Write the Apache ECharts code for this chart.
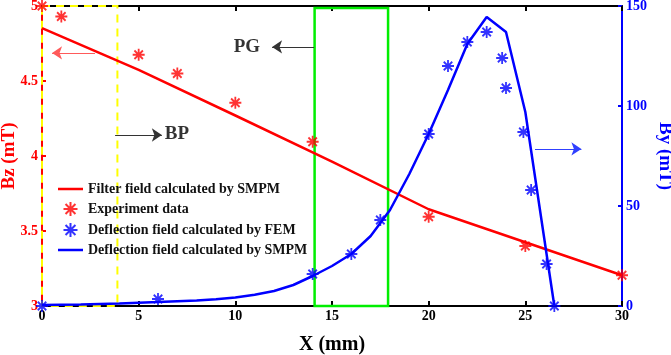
<!DOCTYPE html>
<html><head><meta charset="utf-8">
<script src="https://cdn.jsdelivr.net/npm/echarts@6/dist/echarts.min.js"></script>
<style>html,body{margin:0;padding:0;background:#fff}#c{width:671px;height:355px}</style>
</head><body><div id="c"></div>
<script>
// ---- data ----
var xTicks = [0, 5, 10, 15, 20, 25, 30];
var filterX = [0, 5, 10, 15, 20, 25, 30];
var filterBz = [4.853, 4.574, 4.27, 3.963, 3.645, 3.425, 3.205];
var expX = [0, 1, 5, 7, 10, 14, 20, 25, 30];
var expBz = [5.0, 4.93, 4.675, 4.55, 4.355, 4.095, 3.595, 3.40, 3.205];
var femX = [0, 6, 14, 16, 17.5, 20, 21, 22, 23, 23.8, 24, 24.9, 25.3, 26.1, 26.5];
var femBy = [0, 3.5, 16, 26, 43, 86, 120, 132, 137, 124, 109, 87, 58, 21, 0];
var smpmX = [0, 2, 4, 6, 8, 9, 10, 11, 12, 13, 14, 15, 16, 17, 18, 19, 20, 21, 22, 23, 24, 25, 26.5];
var smpmBy = [0.5, 0.8, 1.3, 2.0, 2.8, 3.4, 4.2, 5.6, 7.5, 10.5, 15, 20, 26, 35, 48, 66, 86, 108, 131, 144.5, 137, 97, 0];
var regionBP = [0, 3.9];
var regionPG = [14.1, 17.9];
var annotTexts = ['PG', 'BP'];
var annotX = [10.6, 6.98];
var annotY = [4.727, 4.147];
var arrows = [ // [x1,y1,x2,y2]
  [2.74, 4.687, 0.52, 4.687],
  [14.07, 4.727, 11.9, 4.727],
  [3.78, 4.14, 6.2, 4.14],
  [25.5, 4.047, 27.9, 4.047]
];
var arrowColors = ['#ff5a5a', '#333333', '#333333', '#3040ff'];

function zip(a, b) { return a.map(function (v, i) { return [v, b[i]]; }); }
var FONT = 'Liberation Serif';
var star = 'path://M0,-10L0,10M-10,0L10,0M-7.07,-7.07L7.07,7.07M-7.07,7.07L7.07,-7.07';
var lineIcon = 'path://M0,0L0.01,0L0,0.01Z M0,5.8H25V8.2H0Z M25,14L24.99,14L25,13.99Z';

var chart = echarts.init(document.getElementById('c'));
chart.setOption({
  animation: false,
  grid: { left: 42, right: 49, top: 6, bottom: 49, show: false,
          containLabel: false, outerBoundsMode: 'none' },
  legend: {
    orient: 'vertical', left: 53, top: 177, itemGap: 5, itemWidth: 25, itemHeight: 14,
    textStyle: { fontFamily: FONT, fontWeight: 'bold', fontSize: 14, color: '#111' },
    data: [
      { name: 'Filter field calculated by SMPM', icon: lineIcon },
      { name: 'Experiment data' },
      { name: 'Deflection field calculated by FEM' },
      { name: 'Deflection field calculated by SMPM', icon: lineIcon }
    ]
  },
  xAxis: [{
    type: 'value', min: 0, max: 30, interval: 5, position: 'bottom',
    name: 'X (mm)', nameLocation: 'middle', nameGap: 29, nameMoveOverlap: false,
    nameTextStyle: { fontFamily: FONT, fontWeight: 'bold', fontSize: 20, color: '#000' },
    axisLine: { onZero: false, lineStyle: { color: '#000', width: 2 } },
    axisTick: { inside: true, length: 5, lineStyle: { color: '#000', width: 2 } },
    axisLabel: { fontFamily: FONT, fontWeight: 'bold', fontSize: 14, color: '#000', margin: 3 },
    splitLine: { show: false }
  }, {
    type: 'value', min: 0, max: 30, interval: 5, position: 'top',
    axisLine: { onZero: false, lineStyle: { color: '#000', width: 2 } },
    axisTick: { inside: true, length: 5, lineStyle: { color: '#000', width: 2 } },
    axisLabel: { show: false }, splitLine: { show: false }
  }],
  yAxis: [{
    type: 'value', min: 3, max: 5, interval: 0.5, position: 'left',
    name: 'Bz (mT)', nameLocation: 'middle', nameGap: 23, nameMoveOverlap: false,
    nameTextStyle: { fontFamily: FONT, fontWeight: 'bold', fontSize: 19, color: '#ff0000' },
    axisLine: { show: true, onZero: false, lineStyle: { color: '#ff0000', width: 2 } },
    axisTick: { show: true, inside: true, length: 4, lineStyle: { color: '#ff0000', width: 2 } },
    axisLabel: { fontFamily: FONT, fontWeight: 'bold', fontSize: 14, color: '#ff0000', margin: 4 },
    splitLine: { show: false }
  }, {
    type: 'value', min: 0, max: 150, interval: 50, position: 'right',
    name: 'By (mT)', nameLocation: 'middle', nameGap: 33, nameRotate: -90, nameMoveOverlap: false,
    nameTextStyle: { fontFamily: FONT, fontWeight: 'bold', fontSize: 19, color: '#0000ff' },
    axisLine: { show: true, onZero: false, lineStyle: { color: '#0000ff', width: 2 } },
    axisTick: { show: true, inside: true, length: 4, lineStyle: { color: '#0000ff', width: 2 } },
    axisLabel: { fontFamily: FONT, fontWeight: 'bold', fontSize: 14, color: '#0000ff', margin: 4 },
    splitLine: { show: false }
  }],
  series: [{
    name: 'Filter field calculated by SMPM', type: 'line', xAxisIndex: 0, yAxisIndex: 0,
    data: zip(filterX, filterBz), symbol: 'none', showSymbol: false,
    lineStyle: { color: '#ff0000', width: 2.5 }, itemStyle: { color: '#ff0000' }, z: 3,
    markArea: {
      silent: true,
      data: [
        [{ coord: [regionBP[0], 5], itemStyle: { color: 'transparent', borderColor: '#ffff00', borderWidth: 2, borderType: [8, 6] } }, { coord: [regionBP[1], 3] }],
        [{ coord: [regionPG[0], 4.987], itemStyle: { color: 'transparent', borderColor: '#00ee00', borderWidth: 2.5 } }, { coord: [regionPG[1], 3] }]
      ]
    }
  }, {
    name: 'Experiment data', type: 'scatter', xAxisIndex: 0, yAxisIndex: 0,
    data: zip(expX, expBz), symbol: star, symbolSize: 12,
    itemStyle: { color: '#ff0000', borderColor: '#ff0000', borderWidth: 1.8 }, z: 4
  }, {
    name: 'Deflection field calculated by FEM', type: 'scatter', xAxisIndex: 0, yAxisIndex: 1,
    data: zip(femX, femBy), symbol: star, symbolSize: 12,
    itemStyle: { color: '#0000ff', borderColor: '#0000ff', borderWidth: 1.8 }, z: 4
  }, {
    name: 'Deflection field calculated by SMPM', type: 'line', xAxisIndex: 0, yAxisIndex: 1,
    data: zip(smpmX, smpmBy), symbol: 'none', showSymbol: false, smooth: false,
    lineStyle: { color: '#0000ff', width: 2.5 }, itemStyle: { color: '#0000ff' }, z: 3
  }, {
    name: 'annot', type: 'scatter', xAxisIndex: 0, yAxisIndex: 0,
    data: annotTexts.map(function (t, i) { return [annotX[i], annotY[i], t]; }),
    symbolSize: 0, silent: true,
    label: { show: true, position: 'inside', formatter: function (p) { return p.value[2]; },
      fontFamily: FONT, fontWeight: 'bold', fontSize: 19, color: '#000' },
    markLine: {
      silent: true, symbol: ['none', 'arrow'], symbolSize: 10,
      label: { show: false },
      data: arrows.map(function (a, i) {
        return [{ coord: [a[0], a[1]], symbol: 'none', lineStyle: { color: arrowColors[i], width: 1.2, type: 'solid' }, itemStyle: { color: arrowColors[i] } },
                { coord: [a[2], a[3]], symbol: 'arrow', symbolSize: 10, itemStyle: { color: arrowColors[i] } }];
      })
    }
  }]
});
</script></body></html>
